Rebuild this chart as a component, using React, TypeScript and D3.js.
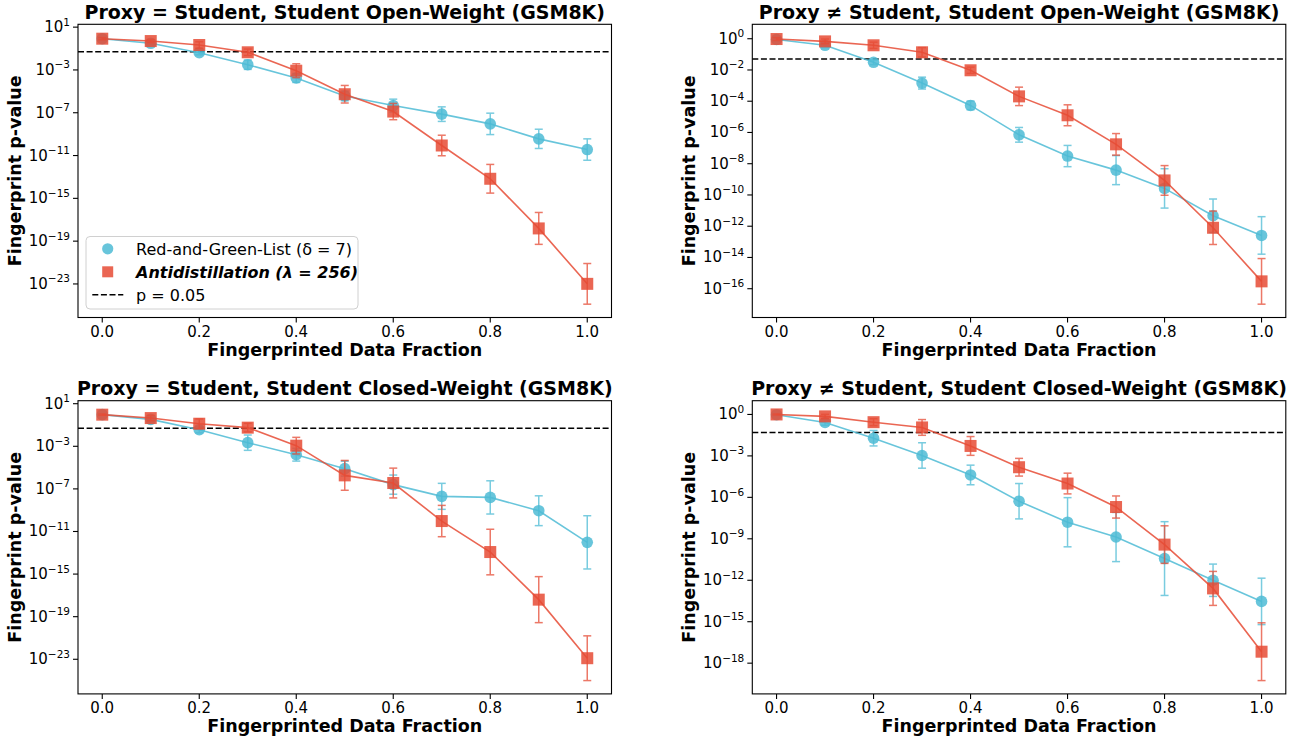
import React from 'react';
import * as d3 from 'd3';

// ---------- data (log10 of p-values, errors in decades) ----------
const fractions = [0.0, 0.1, 0.2, 0.3, 0.4, 0.5, 0.6, 0.7, 0.8, 0.9, 1.0];

// Panel 1: Proxy = Student, Open-Weight
const openSameRg = [-0.08, -0.51, -1.39, -2.51, -3.75, -5.43, -6.33, -7.13, -8.04, -9.44, -10.44];
const openSameRgErr = [0.1, 0.15, 0.2, 0.44, 0.42, 0.45, 0.6, 0.68, 1.0, 0.9, 1.0];
const openSameAd = [-0.08, -0.3, -0.67, -1.35, -3.07, -5.27, -6.89, -10.06, -13.17, -17.81, -22.99];
const openSameAdErr = [0.1, 0.15, 0.3, 0.3, 0.65, 0.82, 0.76, 0.96, 1.34, 1.49, 1.9];

// Panel 2: Proxy != Student, Open-Weight
const openDiffRg = [-0.05, -0.42, -1.51, -2.84, -4.27, -6.15, -7.51, -8.41, -9.58, -11.33, -12.59];
const openDiffRgErr = [0.1, 0.15, 0.15, 0.38, 0.28, 0.47, 0.68, 0.93, 1.26, 1.07, 1.2];
const openDiffAd = [-0.02, -0.17, -0.42, -0.87, -2.02, -3.69, -4.9, -6.76, -9.07, -12.1, -15.53];
const openDiffAdErr = [0.09, 0.15, 0.2, 0.3, 0.2, 0.59, 0.67, 0.69, 0.95, 1.07, 1.46];

// Panel 3: Proxy = Student, Closed-Weight
const closedSameRg = [-0.03, -0.47, -1.44, -2.66, -3.79, -5.1, -6.6, -7.7, -7.8, -9.05, -12.02];
const closedSameRgErr = [0.05, 0.2, 0.3, 0.72, 0.6, 0.7, 0.9, 1.22, 1.56, 1.4, 2.5];
const closedSameAd = [-0.03, -0.35, -0.88, -1.25, -2.94, -5.73, -6.45, -10.02, -12.93, -17.4, -22.9];
const closedSameAdErr = [0.06, 0.25, 0.45, 0.4, 0.78, 1.4, 1.4, 1.47, 2.14, 2.16, 2.1];

// Panel 4: Proxy != Student, Closed-Weight
const closedDiffRg = [-0.02, -0.58, -1.72, -2.97, -4.38, -6.28, -7.8, -8.87, -10.43, -12.0, -13.53];
const closedDiffRgErr = [0.05, 0.2, 0.56, 0.92, 0.71, 1.28, 1.78, 1.78, 2.67, 1.17, 1.68];
const closedDiffAd = [0.0, -0.14, -0.56, -0.94, -2.28, -3.82, -5.0, -6.7, -9.42, -12.59, -17.17];
const closedDiffAdErr = [0.03, 0.15, 0.25, 0.57, 0.68, 0.64, 0.75, 0.8, 1.36, 1.23, 2.09];

const xTicks = [0.0, 0.2, 0.4, 0.6, 0.8, 1.0];
const yTicksWide = [1, -3, -7, -11, -15, -19, -23];
const yTicksOpenDiff = [0, -2, -4, -6, -8, -10, -12, -14, -16];
const yTicksClosedDiff = [0, -3, -6, -9, -12, -15, -18];

const titles = [
  'Proxy = Student, Student Open-Weight (GSM8K)',
  'Proxy \u2260 Student, Student Open-Weight (GSM8K)',
  'Proxy = Student, Student Closed-Weight (GSM8K)',
  'Proxy \u2260 Student, Student Closed-Weight (GSM8K)',
];
const legendLabels = ['Red-and-Green-List (\u03b4 = 7)', 'Antidistillation (\u03bb = 256)', 'p = 0.05'];
const threshold = 0.05;

// ---------- styles ----------
const BLUE = '#4DBBD5';
const RED = '#E64B35';
const FONT = 'DejaVu Sans, sans-serif';

const panels = [
  { title: titles[0], left: 78, top: 24.3, rg: openSameRg, rgErr: openSameRgErr, ad: openSameAd, adErr: openSameAdErr, ticks: yTicksWide, legend: true },
  { title: titles[1], left: 752.3, top: 24.3, rg: openDiffRg, rgErr: openDiffRgErr, ad: openDiffAd, adErr: openDiffAdErr, ticks: yTicksOpenDiff, legend: false },
  { title: titles[2], left: 78, top: 400.7, rg: closedSameRg, rgErr: closedSameRgErr, ad: closedSameAd, adErr: closedSameAdErr, ticks: yTicksWide, legend: false },
  { title: titles[3], left: 752.3, top: 400.7, rg: closedDiffRg, rgErr: closedDiffRgErr, ad: closedDiffAd, adErr: closedDiffAdErr, ticks: yTicksClosedDiff, legend: false },
];
const PW = 533.5;
const PH = 293.2;

function Series({ vals, errs, x, y, color, shape }) {
  const pts = fractions.map((f, i) => ({ f, v: vals[i], e: errs[i] }));
  const line = d3.line<any>().x((d) => x(d.f)).y((d) => y(Math.pow(10, d.v)));
  const cap = 4;
  return (
    <g>
      <path d={line(pts) || ''} fill="none" stroke={color} strokeWidth={1.6} opacity={0.85} />
      {pts.map((d, i) => {
        const cx = x(d.f);
        const y1 = y(Math.pow(10, d.v + d.e));
        const y2 = y(Math.pow(10, d.v - d.e));
        return (
          <g key={'e' + i} stroke={color} strokeWidth={1.5} opacity={0.75}>
            <line x1={cx} x2={cx} y1={y1} y2={y2} />
            <line x1={cx - cap} x2={cx + cap} y1={y1} y2={y1} />
            <line x1={cx - cap} x2={cx + cap} y1={y2} y2={y2} />
          </g>
        );
      })}
      {pts.map((d, i) => {
        const cx = x(d.f);
        const cy = y(Math.pow(10, d.v));
        return shape === 'circle' ? (
          <circle key={'m' + i} cx={cx} cy={cy} r={5.8} fill={color} opacity={0.85} />
        ) : (
          <rect key={'m' + i} x={cx - 6} y={cy - 6} width={12} height={12} fill={color} opacity={0.85} />
        );
      })}
    </g>
  );
}

function Panel({ p }) {
  const lows = [...p.rg.map((v, i) => v - p.rgErr[i]), ...p.ad.map((v, i) => v - p.adErr[i])];
  const highs = [...p.rg.map((v, i) => v + p.rgErr[i]), ...p.ad.map((v, i) => v + p.adErr[i])];
  const lo = d3.min(lows);
  const hi = d3.max(highs);
  const span = hi - lo;
  const left = p.left, top = p.top, right = left + PW, bottom = top + PH;
  const x = d3.scaleLinear().domain([-0.05, 1.05]).range([left, right]);
  const y = d3.scaleLog().domain([Math.pow(10, lo - 0.05 * span), Math.pow(10, hi + 0.05 * span)]).range([bottom, top]);
  const yThr = y(threshold);
  const lx = left + 8, ly = bottom - 81;
  return (
    <g fontFamily={FONT}>
      <text x={(left + right) / 2} y={top - 5.3} textAnchor="middle" fontSize={19} fontWeight="bold">{p.title}</text>
      {/* threshold */}
      <line x1={left} x2={right} y1={yThr} y2={yThr} stroke="#000" strokeWidth={1.5} strokeDasharray="6,2.6" />
      <Series vals={p.rg} errs={p.rgErr} x={x} y={y} color={BLUE} shape="circle" />
      <Series vals={p.ad} errs={p.adErr} x={x} y={y} color={RED} shape="square" />
      {/* frame */}
      <rect x={left} y={top} width={PW} height={PH} fill="none" stroke="#000" strokeWidth={1.1} />
      {/* x ticks */}
      {xTicks.map((t) => (
        <g key={'x' + t}>
          <line x1={x(t)} x2={x(t)} y1={bottom} y2={bottom + 5} stroke="#000" strokeWidth={1.1} />
          <text x={x(t)} y={bottom + 19.5} textAnchor="middle" fontSize={15}>{t.toFixed(1)}</text>
        </g>
      ))}
      {/* y ticks */}
      {p.ticks.map((e) => {
        const ty = y(Math.pow(10, e));
        return (
          <g key={'y' + e}>
            <line x1={left - 5} x2={left} y1={ty} y2={ty} stroke="#000" strokeWidth={1.1} />
            <text x={left - 8} y={ty + 5} textAnchor="end" fontSize={15}>
              10<tspan dy={-6.5} fontSize={10.5}>{e < 0 ? '\u2212' + Math.abs(e) : String(e)}</tspan>
            </text>
          </g>
        );
      })}
      <text x={(left + right) / 2} y={bottom + 38} textAnchor="middle" fontSize={17.5} fontWeight="bold">Fingerprinted Data Fraction</text>
      <text transform={`translate(${left - 57},${(top + bottom) / 2}) rotate(-90)`} textAnchor="middle" fontSize={17.5} fontWeight="bold">Fingerprint p-value</text>
      {p.legend && (
        <g>
          <rect x={lx} y={ly} width={272} height={72.5} rx={4} fill="#fff" fillOpacity={0.8} stroke="#d0d0d0" strokeWidth={1} />
          <circle cx={lx + 21.7} cy={ly + 12.3} r={5.6} fill={BLUE} opacity={0.85} />
          <text x={lx + 50} y={ly + 18} fontSize={16}>{legendLabels[0]}</text>
          <rect x={lx + 16.2} y={ly + 29.8} width={11} height={11} fill={RED} opacity={0.85} />
          <text x={lx + 50} y={ly + 41} fontSize={16} fontWeight="bold" fontStyle="italic">{legendLabels[1]}</text>
          <line x1={lx + 6.3} x2={lx + 37.3} y1={ly + 58.3} y2={ly + 58.3} stroke="#000" strokeWidth={1.5} strokeDasharray="6,2.6" />
          <text x={lx + 50} y={ly + 64} fontSize={16}>{legendLabels[2]}</text>
        </g>
      )}
    </g>
  );
}

export default function App() {
  return (
    <svg width={1292} height={736} style={{ position: 'absolute', left: 0, top: 0, background: '#fff' }}>
      <rect x={0} y={0} width={1292} height={736} fill="#fff" />
      {panels.map((p, i) => (
        <Panel key={i} p={p} />
      ))}
    </svg>
  );
}
